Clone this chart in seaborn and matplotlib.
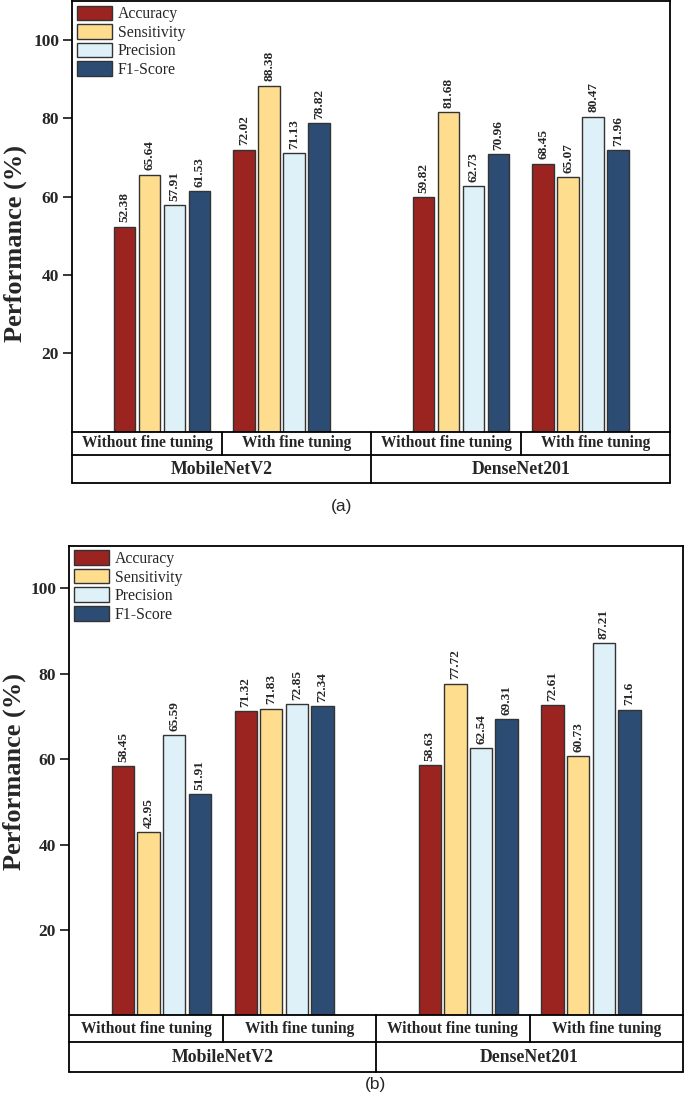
import matplotlib
matplotlib.use("Agg")
import matplotlib.pyplot as plt
import seaborn as sns
import pandas as pd

# Data
metrics = ["Accuracy", "Sensitivity", "Precision", "F1-Score"]
conditions = ["Without fine tuning", "With fine tuning",
              "Without fine tuning", "With fine tuning"]
models = ["MobileNetV2", "DenseNet201"]

# (a)
accuracy_a = [52.38, 72.02, 59.82, 68.45]
sensitivity_a = [65.64, 88.38, 81.68, 65.07]
precision_a = [57.91, 71.13, 62.73, 80.47]
f1_a = [61.53, 78.82, 70.96, 71.96]

# (b)
accuracy_b = [58.45, 71.32, 58.63, 72.61]
sensitivity_b = [42.95, 71.83, 77.72, 60.73]
precision_b = [65.59, 72.85, 62.54, 87.21]
f1_b = [51.91, 72.34, 69.31, 71.6]

yticks = [20, 40, 60, 80, 100]

# Style / layout
colors = ["#9B2320", "#FEDE8E", "#DFF1F8", "#2C4C74"]
group_pos = [0.6, 1.4, 2.6, 3.4]   # group centres in "table cell" units

sns.set_style("ticks")
plt.rcParams['font.family'] = ['Liberation Serif', 'DejaVu Serif']

W, H = 685, 1102
fig = plt.figure(figsize=(W / 100, H / 100), dpi=100)


def px_axes(left, top, right, bottom):
    return fig.add_axes([left / W, 1 - bottom / H, (right - left) / W, (bottom - top) / H])


def draw_panel(ax, series, rows_px, label_xy):
    df = pd.DataFrame({
        "pos": group_pos * len(metrics),
        "Metric": [m for m in metrics for _ in group_pos],
        "value": [v for s in series for v in s],
    })
    sns.barplot(data=df, x="pos", y="value", hue="Metric", hue_order=metrics,
                palette=colors, saturation=1, native_scale=True, width=0.835,
                gap=0.13, errorbar=None, edgecolor="#333333", linewidth=1.0,
                ax=ax)

    for c in ax.containers:
        ax.bar_label(c, labels=[f"{v:g}" for v in c.datavalues], rotation=90,
                     padding=3, fontsize=9.5, fontweight='bold')

    ax.set_xlim(0, 4)
    ax.set_ylim(0, 110)
    ax.set_yticks(yticks)
    ax.set_yticklabels([str(t) for t in yticks], fontsize=12.5, fontweight='bold')
    ax.tick_params(axis='y', length=6.5, width=1.3, pad=3, direction='out')
    ax.tick_params(axis='x', length=0, labelbottom=False)
    ax.set_xlabel("")
    ax.set_ylabel("Performance (%)", fontsize=19, fontweight='bold')
    ax.yaxis.set_label_coords(*label_xy)
    for sp in ax.spines.values():
        sp.set_visible(True)
        sp.set_linewidth(1.3)
        sp.set_color("black")

    # legend
    handles, labels = ax.get_legend_handles_labels()
    ax.legend(handles, labels, loc="upper left", bbox_to_anchor=(0, 1),
              frameon=False, fontsize=11.3, handlelength=2.25, handleheight=1.05,
              handletextpad=0.35, labelspacing=0.12, borderpad=0.15,
              borderaxespad=0.15)

    # category table under the axes
    ax_h = ax.get_position().height * H
    r1 = -rows_px[0] / ax_h
    r2 = -rows_px[1] / ax_h
    tr = ax.get_xaxis_transform()
    kw = dict(color="black", lw=1.3, transform=tr, clip_on=False)
    ax.plot([0, 0], [0, r2], **kw)
    ax.plot([4, 4], [0, r2], **kw)
    ax.plot([0, 4], [r1, r1], **kw)
    ax.plot([0, 4], [r2, r2], **kw)
    ax.plot([2, 2], [0, r2], **kw)
    for xd in [1, 3]:
        ax.plot([xd, xd], [0, r1], **kw)
    for i, cond in enumerate(conditions):
        ax.text(i + 0.5, r1 / 2, cond, transform=tr, ha='center', va='center',
                fontsize=11.2, fontweight='bold')
    for i, m in enumerate(models):
        ax.text(2 * i + 1, (r1 + r2) / 2, m, transform=tr, ha='center',
                va='center', fontsize=12.8, fontweight='bold')


ax_a = px_axes(72.3, 1.0, 670.3, 431.5)
draw_panel(ax_a, [accuracy_a, sensitivity_a, precision_a, f1_a],
           (23.8, 51.8), (-0.076, 0.436))

ax_b = px_axes(69.3, 545.7, 683.0, 1015.3)
draw_panel(ax_b, [accuracy_b, sensitivity_b, precision_b, f1_b],
           (27.0, 56.4), (-0.071, 0.52))

fig.text(342 / W, 1 - 506 / H, "(a)", ha='center', va='center',
         fontsize=12.5, family=['Liberation Sans', 'DejaVu Sans'])
fig.text(376 / W, 1 - 1085 / H, "(b)", ha='center', va='center',
         fontsize=12.5, family=['Liberation Sans', 'DejaVu Sans'])

fig.savefig("out.png", dpi=100)
